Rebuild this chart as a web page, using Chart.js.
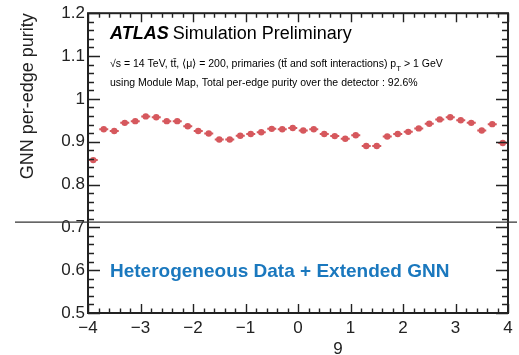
<!DOCTYPE html>
<html>
<head>
<meta charset="utf-8">
<script src="https://cdn.jsdelivr.net/npm/chart.js@4.4.1/dist/chart.umd.min.js"></script>
<style>
  html, body { margin: 0; padding: 0; background: #fff; }
  canvas { display: block; }
</style>
</head>
<body>
<canvas id="purityChart" width="519" height="355"></canvas>
<script>
// eta bin centres (bin width 0.2)
const etaCenters = [
    -3.9, -3.7, -3.5, -3.3, -3.1, -2.9, -2.7, -2.5, -2.3, -2.1,
    -1.9, -1.7, -1.5, -1.3, -1.1, -0.9, -0.7, -0.5, -0.3, -0.1,
    0.1, 0.3, 0.5, 0.7, 0.9, 1.1, 1.3, 1.5, 1.7, 1.9,
    2.1, 2.3, 2.5, 2.7, 2.9, 3.1, 3.3, 3.5, 3.7, 3.9,
]

// per-edge purity in each bin
const purity = [
    0.857, 0.929, 0.925, 0.944, 0.948, 0.959, 0.957, 0.948, 0.948, 0.936,
    0.925, 0.919, 0.905, 0.905, 0.914, 0.918, 0.922, 0.930, 0.929, 0.932,
    0.926, 0.929, 0.918, 0.913, 0.907, 0.915, 0.890, 0.890, 0.912, 0.918,
    0.923, 0.931, 0.942, 0.952, 0.957, 0.950, 0.944, 0.926, 0.941, 0.897,
]

const xRange = [-4, 4]
const yRange = [0.5, 1.2]
const overlayLevel = 0.712

const FONT = '"Liberation Sans", Arial, Helvetica, sans-serif'
const markerColor = '#d6585d'

const points = etaCenters.map((x, i) => ({ x: x, y: purity[i] }))

function minus(v) {
    return v < 0 ? '\u2212' + Math.abs(v) : String(v)
}

/**
 * @name rootFrame
 * @description Draws the boxed frame with inward ticks on all four sides,
 * plus the labels written inside the plot.
 */
const rootFrame = {
    id: 'rootFrame',
    afterDraw(chart) {
        const ctx = chart.ctx
        const area = chart.chartArea
        const xs = chart.scales.x
        const ys = chart.scales.y

        ctx.save()
        ctx.strokeStyle = '#222'
        ctx.lineWidth = 1.4

        // x ticks every 0.2, major every 1
        for (let i = 0; i <= 40; i++) {
            const v = xRange[0] + i * 0.2
            const px = Math.round(xs.getPixelForValue(v)) + 0.5
            const len = i % 5 === 0 ? 9 : 4.5
            ctx.beginPath()
            ctx.moveTo(px, area.bottom)
            ctx.lineTo(px, area.bottom - len)
            ctx.moveTo(px, area.top)
            ctx.lineTo(px, area.top + len)
            ctx.stroke()
        }
        // y ticks every 0.02, major every 0.1
        for (let i = 0; i <= 35; i++) {
            const v = yRange[0] + i * 0.02
            const py = Math.round(ys.getPixelForValue(v)) + 0.5
            const len = i % 5 === 0 ? 12 : 6
            ctx.beginPath()
            ctx.moveTo(area.left, py)
            ctx.lineTo(area.left + len, py)
            ctx.moveTo(area.right, py)
            ctx.lineTo(area.right - len, py)
            ctx.stroke()
        }

        ctx.lineWidth = 2
        ctx.strokeRect(area.left, area.top, area.right - area.left, area.bottom - area.top)

        // thin line running across the whole figure
        const ly = ys.getPixelForValue(overlayLevel)
        ctx.strokeStyle = '#333'
        ctx.lineWidth = 1.3
        ctx.beginPath()
        ctx.moveTo(15, ly)
        ctx.lineTo(chart.width - 2, ly)
        ctx.stroke()

        // ATLAS label
        ctx.fillStyle = '#000'
        ctx.textBaseline = 'alphabetic'
        ctx.textAlign = 'left'
        ctx.font = 'italic bold 18px ' + FONT
        ctx.fillText('ATLAS', 110, 38.5)
        const w = ctx.measureText('ATLAS').width
        ctx.font = '18px ' + FONT
        ctx.fillText('Simulation Preliminary', 110 + w + 4, 38.5)

        // conditions
        ctx.font = '10.5px ' + FONT
        let tx = 110
        const line2 = '\u221As = 14 TeV, tt\u0304, \u27E8\u03BC\u27E9 = 200, primaries (tt\u0304 and soft interactions) p'
        ctx.fillText(line2, tx, 67)
        tx += ctx.measureText(line2).width
        ctx.font = '8px ' + FONT
        ctx.fillText('T', tx, 70.5)
        tx += ctx.measureText('T').width + 3
        ctx.font = '10.5px ' + FONT
        ctx.fillText('> 1 GeV', tx, 67)
        ctx.fillText('using Module Map, Total per-edge purity over the detector : 92.6%', 110, 86)

        // configuration label
        ctx.fillStyle = '#1a78be'
        ctx.font = 'bold 19px ' + FONT
        ctx.fillText('Heterogeneous Data + Extended GNN', 110, 277)

        // x axis title
        ctx.fillStyle = '#222'
        ctx.font = '17px ' + FONT
        ctx.textAlign = 'center'
        ctx.fillText('9', 338, 354)
        ctx.restore()
    },
}

const ctx = document.getElementById('purityChart').getContext('2d')
const purityChart = new Chart(ctx, {
    type: 'scatter',
    data: {
        datasets: [
            {
                data: points,
                pointStyle: 'circle',
                pointRadius: 3.2,
                backgroundColor: markerColor,
                borderWidth: 0,
            },
            {
                data: points,
                pointStyle: 'line',
                pointRadius: 4.5,
                borderColor: markerColor,
                borderWidth: 2,
            },
        ],
    },
    options: {
        responsive: false,
        animation: false,
        layout: { padding: { top: 13, right: 11, left: 0, bottom: 0 } },
        plugins: {
            legend: { display: false },
            tooltip: { enabled: false },
        },
        scales: {
            x: {
                type: 'linear',
                min: xRange[0],
                max: xRange[1],
                grid: { display: false, drawTicks: false },
                border: { display: false },
                ticks: {
                    stepSize: 1,
                    padding: 5,
                    color: '#222',
                    font: { family: FONT, size: 17 },
                    callback: (v) => minus(v),
                },
                afterFit: (s) => { s.height = 42 },
            },
            y: {
                min: yRange[0],
                max: yRange[1],
                grid: { display: false, drawTicks: false },
                border: { display: false },
                ticks: {
                    stepSize: 0.1,
                    padding: 3,
                    color: '#222',
                    font: { family: FONT, size: 17 },
                    callback: (v) => String(+v.toFixed(1)),
                },
                title: {
                    display: true,
                    text: 'GNN per-edge purity',
                    align: 'end',
                    color: '#222',
                    font: { family: FONT, size: 18 },
                    padding: { top: 17, bottom: 0 },
                },
                afterFit: (s) => { s.width = 88 },
            },
        },
    },
    plugins: [rootFrame],
})
</script>
</body>
</html>
